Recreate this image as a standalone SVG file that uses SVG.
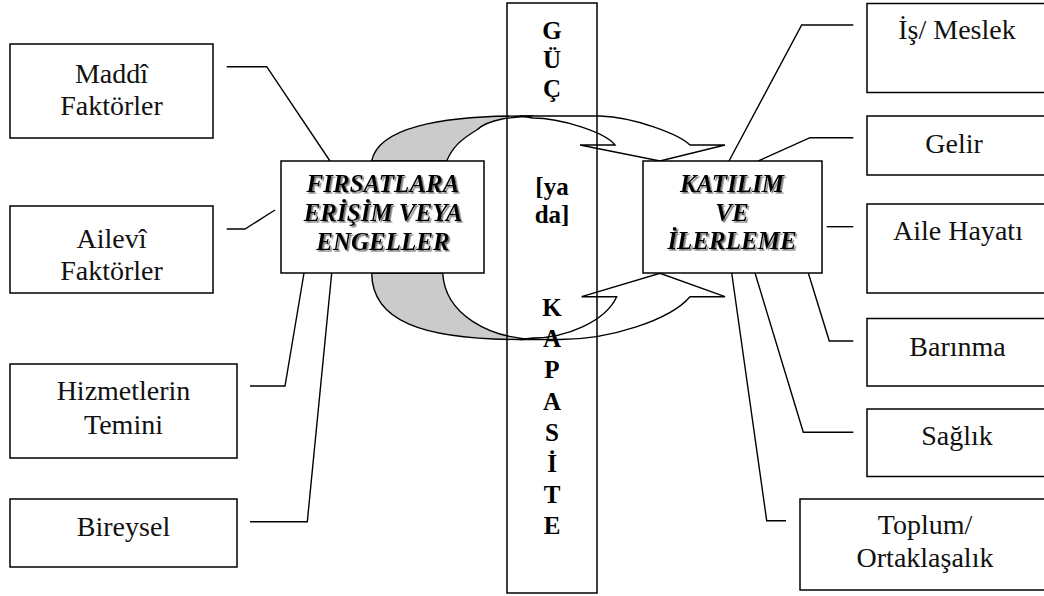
<svg xmlns="http://www.w3.org/2000/svg" width="1044" height="596" viewBox="0 0 1044 596">
<defs>
<style>
.box{fill:#fff;stroke:#000;stroke-width:1.5}
.t{font-family:"Liberation Serif","Times New Roman",serif;font-size:28px;fill:#111;text-anchor:middle}
.h{font-family:"Liberation Serif","Times New Roman",serif;font-size:25px;font-weight:bold;font-style:italic;fill:#000;text-anchor:middle}
.c{font-family:"Liberation Serif","Times New Roman",serif;font-size:25px;font-weight:bold;fill:#000;text-anchor:middle}
.ln{fill:none;stroke:#000;stroke-width:1.4}
.gr{fill:#cbcbcb;stroke:#000;stroke-width:1.4;stroke-linejoin:round}
.wh{fill:#fff;stroke:#000;stroke-width:1.4;stroke-linejoin:miter}
</style>
<filter id="sh" x="-10%" y="-20%" width="120%" height="150%">
<feDropShadow dx="1.6" dy="1.6" stdDeviation="0.4" flood-color="#777" flood-opacity="1"/>
</filter>
</defs>
<rect width="1044" height="596" fill="#fff"/>

<g id="arrows">
<path class="gr" d="M371.7,161 C378,128 440,116 520,116 L533,116 C515,117 490,118 476.7,130 C460,140 452,148 446.7,161 Z"/>
<path class="wh" d="M520,116 L600,116 C635,117 680,135 690,145 L725,145 L660,161 L580,145 L615,145 C605,132 560,118 533,118 Z"/>
<path class="gr" d="M371.7,273 C372,320 420,339.5 520,339.5 L533,339 C490,338 445,315 442.7,273 Z"/>
<path class="wh" d="M520,339.5 L560,339.5 C610,339.5 670,320 690,296.7 L725,296.7 L660,273.3 L581.7,296.7 L616.7,296.7 C605,322 565,338 533,338 Z"/>
</g>

<g id="column">
<rect x="507" y="3" width="90" height="590" fill="none" stroke="#000" stroke-width="1.5"/>
<text class="c" x="552" y="39">G</text>
<text class="c" x="552" y="67.5">Ü</text>
<text class="c" x="552" y="96.5">Ç</text>
<text class="c" x="552" y="195">[ya</text>
<text class="c" x="552" y="223">da]</text>
<text class="c" x="552" y="316">K</text>
<text class="c" x="552" y="347">A</text>
<text class="c" x="552" y="378">P</text>
<text class="c" x="552" y="409.5">A</text>
<text class="c" x="552" y="440.5">S</text>
<text class="c" x="552" y="471.5">İ</text>
<text class="c" x="552" y="502.5">T</text>
<text class="c" x="552" y="534">E</text>
</g>

<g id="connectors">
<path class="ln" d="M226.7,66.7 H266.7 L330,161"/>
<path class="ln" d="M226.7,229 H245 L275,210"/>
<path class="ln" d="M250,386 H285 L304,273"/>
<path class="ln" d="M250,521.7 H307.3 L331.7,273"/>
<path class="ln" d="M853.3,25 H801.7 L729,161"/>
<path class="ln" d="M853.3,137.7 H810 L758.3,161"/>
<path class="ln" d="M853.3,226.7 H826.7"/>
<path class="ln" d="M853.3,341 H829.3 L808.3,273"/>
<path class="ln" d="M853.3,432.3 H803.3 L755,273"/>
<path class="ln" d="M786,520.7 H766.7 L731.7,273"/>
</g>

<g id="firsatlara">
<rect class="box" x="281" y="161" width="203" height="112"/>
<g filter="url(#sh)">
<text class="h" x="383" y="191.5">FIRSATLARA</text>
<text class="h" x="383" y="220.5">ERİŞİM VEYA</text>
<text class="h" x="383" y="249.5">ENGELLER</text>
</g>
</g>

<g id="katilim">
<rect class="box" x="643" y="161" width="179" height="112"/>
<g filter="url(#sh)">
<text class="h" x="732" y="192">KATILIM</text>
<text class="h" x="732" y="220.5">VE</text>
<text class="h" x="732" y="248.5">İLERLEME</text>
</g>
</g>

<g id="maddi">
<rect class="box" x="10" y="44" width="203" height="94"/>
<text class="t" x="111.5" y="83">Maddî</text>
<text class="t" x="111.5" y="114.5">Faktörler</text>
</g>
<g id="ailevi">
<rect class="box" x="10" y="206" width="203" height="87"/>
<text class="t" x="111.5" y="248">Ailevî</text>
<text class="t" x="111.5" y="280">Faktörler</text>
</g>
<g id="hizmetlerin">
<rect class="box" x="10" y="364" width="227" height="94"/>
<text class="t" x="123.5" y="400">Hizmetlerin</text>
<text class="t" x="123.5" y="434">Temini</text>
</g>
<g id="bireysel">
<rect class="box" x="10" y="499" width="227" height="68"/>
<text class="t" x="123.5" y="536">Bireysel</text>
</g>

<g id="is-meslek">
<rect class="box" x="867" y="3.5" width="182" height="89"/>
<text class="t" x="957" y="39">İş/ Meslek</text>
</g>
<g id="gelir">
<rect class="box" x="867" y="116" width="182" height="59"/>
<text class="t" x="954" y="152.7">Gelir</text>
</g>
<g id="aile-hayati">
<rect class="box" x="867" y="204" width="182" height="89"/>
<text class="t" x="958" y="240">Aile Hayatı</text>
</g>
<g id="barinma">
<rect class="box" x="867" y="318.5" width="182" height="67.5"/>
<text class="t" x="957.5" y="356">Barınma</text>
</g>
<g id="saglik">
<rect class="box" x="867" y="409" width="182" height="67.5"/>
<text class="t" x="957" y="445">Sağlık</text>
</g>
<g id="toplum">
<rect class="box" x="800" y="499" width="249" height="91"/>
<text class="t" x="925" y="534">Toplum/</text>
<text class="t" x="925" y="567">Ortaklaşalık</text>
</g>
</svg>
